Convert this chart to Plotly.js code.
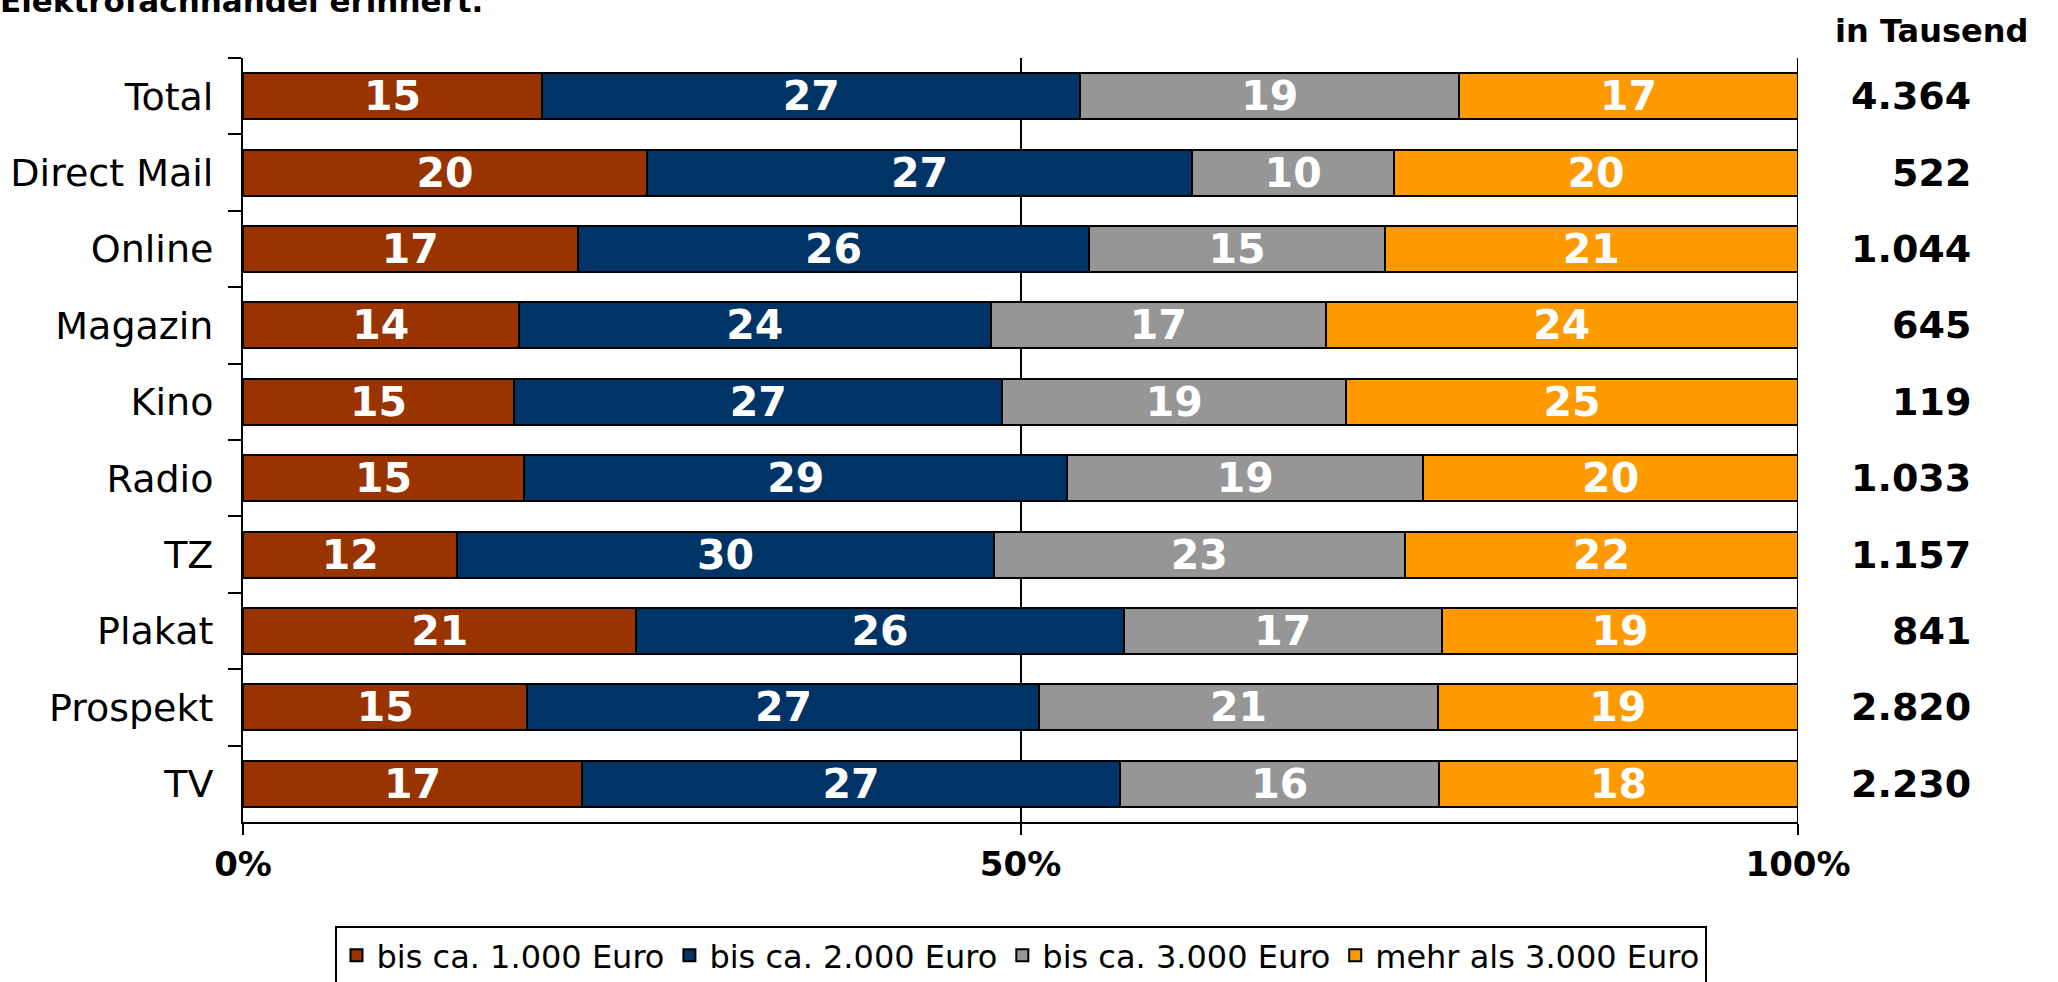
<!DOCTYPE html>
<html>
<head>
<meta charset="utf-8">
<script src="https://cdn.plot.ly/plotly-3.0.1.min.js"></script>
<style>html,body{margin:0;padding:0;background:#fff;}#chart{width:2058px;height:982px;}</style>
</head>
<body>
<div id="chart"></div>
<script>
const categories = ["Total", "Direct Mail", "Online", "Magazin", "Kino", "Radio", "TZ", "Plakat", "Prospekt", "TV"];
const seriesNames = ["bis ca. 1.000 Euro", "bis ca. 2.000 Euro", "bis ca. 3.000 Euro", "mehr als 3.000 Euro"];
const bis1000 = [15, 20, 17, 14, 15, 15, 12, 21, 15, 17];
const bis2000 = [27, 27, 26, 24, 27, 29, 30, 26, 27, 27];
const bis3000 = [19, 10, 15, 17, 19, 19, 23, 17, 21, 16];
const mehr3000 = [17, 20, 21, 24, 25, 20, 22, 19, 19, 18];
const totalsTausend = ["4.364", "522", "1.044", "645", "119", "1.033", "1.157", "841", "2.820", "2.230"];
const xTickVals = [0, 50, 100];
const xTickText = ["0%", "50%", "100%"];
const unitLabel = "in Tausend";
const titleFragment = "Elektrofachhandel erinnert.";

const colors = ["#993300", "#003366", "#969696", "#FF9900"];
const FONT = "DejaVu Sans, Verdana, sans-serif";
const seriesValues = [bis1000, bis2000, bis3000, mehr3000];

const traces = seriesValues.map((vals, i) => ({
  type: "bar",
  orientation: "h",
  name: seriesNames[i],
  y: categories,
  x: vals,
  text: vals.map(String),
  texttemplate: "%{text}",
  textposition: "inside",
  insidetextanchor: "middle",
  constraintext: "none",
  textfont: {family: FONT, size: 41, color: "#ffffff", weight: "bold"},
  marker: {color: colors[i], line: {color: "#000000", width: 2}},
  hoverinfo: "skip"
}));

const annotations = categories.map((c, i) => ({
  xref: "paper", yref: "y",
  x: 1.1125, y: c,
  xanchor: "right", yanchor: "middle",
  text: totalsTausend[i],
  showarrow: false,
  font: {family: FONT, size: 38, color: "#000000", weight: "bold"}
}));
annotations.push({
  xref: "paper", yref: "paper",
  x: 1.086, y: 1.035,
  xanchor: "center", yanchor: "middle",
  text: unitLabel,
  showarrow: false,
  font: {family: FONT, size: 32, color: "#000000", weight: "bold"}
});

const layout = {
  width: 2058, height: 982,
  margin: {l: 243, r: 260, t: 58, b: 160, autoexpand: false},
  paper_bgcolor: "#ffffff",
  plot_bgcolor: "#ffffff",
  barmode: "stack",
  barnorm: "percent",
  bargap: 0.4,
  title: {
    text: titleFragment,
    x: 0, xref: "container", xanchor: "left",
    y: 1 - 12 / 982, yref: "container", yanchor: "bottom",
    font: {family: FONT, size: 31, color: "#000000", weight: "bold"}
  },
  xaxis: {
    range: [0, 100],
    tickvals: xTickVals,
    ticktext: xTickText,
    ticks: "outside", ticklen: 11, tickwidth: 2, tickcolor: "#000000",
    showgrid: true, gridcolor: "#000000", gridwidth: 2,
    zeroline: false,
    showline: true, linecolor: "#000000", linewidth: 2,
    tickfont: {family: FONT, size: 34, color: "#000000", weight: "bold"},
    fixedrange: true
  },
  yaxis: {
    type: "category",
    autorange: "reversed",
    tickson: "boundaries",
    ticks: "outside", ticklen: 13, tickwidth: 2, tickcolor: "#000000",
    showgrid: false, zeroline: false,
    showline: true, linecolor: "#000000", linewidth: 2,
    ticklabelstandoff: 20,
    tickfont: {family: FONT, size: 38, color: "#000000"},
    fixedrange: true
  },
  shapes: [{
    type: "line", layer: "below",
    xref: "x", yref: "paper",
    x0: 100, x1: 100, y0: 0, y1: 1,
    line: {color: "#000000", width: 2}
  }],
  showlegend: true,
  legend: {
    orientation: "h",
    x: 0.5, xanchor: "center",
    y: -0.136, yanchor: "top",
    bordercolor: "#000000", borderwidth: 2,
    font: {family: FONT, size: 32, color: "#000000"},
    traceorder: "normal"
  },
  annotations: annotations
};

Plotly.newPlot("chart", traces, layout, {displayModeBar: false, staticPlot: true});
</script>
</body>
</html>
